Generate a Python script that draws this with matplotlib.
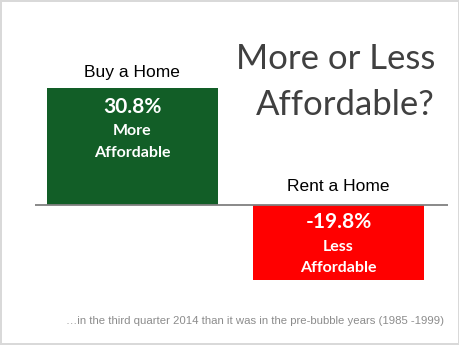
import matplotlib
matplotlib.use("Agg")
import matplotlib.pyplot as plt

categories = ["Buy a Home", "Rent a Home"]
values = [30.8, -19.8]
value_labels = ["30.8%", "-19.8%"]
desc_labels = [["More", "Affordable"], ["Less", "Affordable"]]
colors = ["#125e27", "#ff0000"]
title_lines = ["More or Less", "Affordable?"]
footnote = "\u2026in the third quarter 2014 than it was in the pre-bubble years (1985 -1999)"

W, H = 460, 345
fig = plt.figure(figsize=(W / 100, H / 100), dpi=100)
fig.patch.set_facecolor("white")
fig.patch.set_edgecolor("#d9d9d9")
fig.patch.set_linewidth(1.5)

ax = fig.add_axes([35 / W, (H - 280) / H, (448 - 35) / W, 192 / H])
ax.set_xlim(-0.473, 1.532)
ax.set_ylim(min(values), max(values))
ax.axis("off")

x = list(range(len(categories)))
ax.bar(x, values, width=0.83, color=colors, zorder=2)
ax.axhline(0, color="#808080", lw=1.3, zorder=3)

pt = 72 / 100  # points per pixel
for i, (cat, v) in enumerate(zip(categories, values)):
    top = max(v, 0)
    off = 15 if v > 0 else 18
    ax.annotate(cat, (i, top), xytext=(0, off * pt), textcoords="offset points",
                ha="center", va="center", fontsize=12.5,
                family="Liberation Sans", color="black")
    start = v if v > 0 else 0
    offs = [19, 43, 65] if v > 0 else [17, 42, 63]
    texts = [value_labels[i]] + desc_labels[i]
    sizes = [15, 11.5, 11.5]
    for t, o, s in zip(texts, offs, sizes):
        ax.annotate(t, (i, start), xytext=(0, -o * pt), textcoords="offset points",
                    ha="center", va="center", fontsize=s, fontweight="bold",
                    family="Lato", color="white", zorder=4)

fig.text(435 / W, 1 - 69 / H, title_lines[0], ha="right", va="baseline",
         fontsize=25, family="Lato", color="#404040")
fig.text(435 / W, 1 - 115 / H, title_lines[1], ha="right", va="baseline",
         fontsize=25, family="Lato", color="#404040")
fig.text(444 / W, 1 - 321 / H, footnote, ha="right", va="center",
         fontsize=8.2, family="Liberation Sans", color="#8c8c8c")

fig.savefig("out.png", dpi=100, facecolor=fig.get_facecolor(), edgecolor=fig.get_edgecolor())
